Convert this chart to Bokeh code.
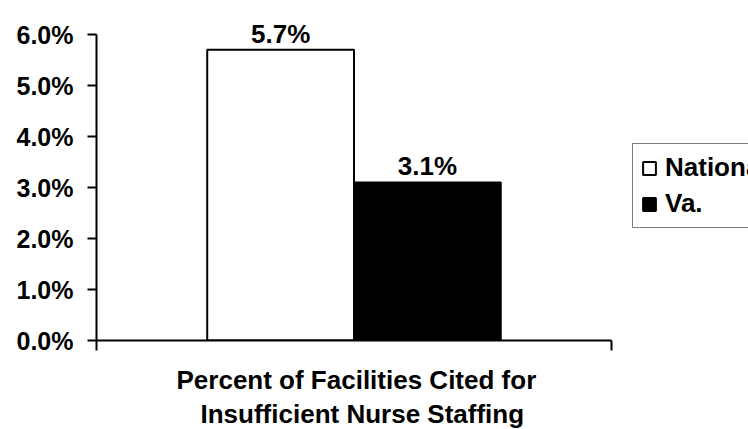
from bokeh.plotting import figure
from bokeh.models import (ColumnDataSource, Range1d, FixedTicker, PrintfTickFormatter,
                          Legend, LegendItem, LinearAxis, Title)
from bokeh.embed import file_html
from bokeh.resources import INLINE
from bokeh.core.properties import value

# Data: percent of facilities cited for insufficient nurse staffing
series = ["National", "Va."]
percents = [5.7, 3.1]
fills = ["white", "black"]
y_ticks = [0, 1, 2, 3, 4, 5, 6]
caption_lines = ["Percent of Facilities Cited for", "Insufficient Nurse Staffing"]

FONT = "Liberation Sans"

# bar geometry in the 0..1 horizontal range: one group, two adjacent bars
group_center = 0.5
bar_width = 0.285
n = len(series)
xs = [group_center + (i - (n - 1) / 2) * bar_width for i in range(n)]

source = ColumnDataSource(data=dict(
    x=xs,
    top=percents,
    fill=fills,
    name=series,
    label=[f"{v:.1f}%" for v in percents],
))

# The plotting frame reaches the top and right edges so that the value
# labels and the legend have room; the axes are bounded to the data area.
W, H = 748, 429
LEFT, BOTTOM = 96, 89
AXIS_PX = 515      # pixel length of the 0..1 category axis
UNIT_PX = 51       # pixels per percentage point
frame_w = W - LEFT
frame_h = H - BOTTOM

p = figure(width=W, height=H, output_backend="svg", toolbar_location=None,
           x_range=Range1d(0, frame_w / AXIS_PX),
           y_range=Range1d(0, frame_h / UNIT_PX),
           x_axis_type=None, y_axis_type=None,
           min_border_left=LEFT, min_border_right=0,
           min_border_top=0, min_border_bottom=BOTTOM)
p.outline_line_color = None
p.background_fill_color = "white"
p.border_fill_color = "white"
p.xgrid.visible = False
p.ygrid.visible = False

# y axis with percent labels
yaxis = LinearAxis(ticker=FixedTicker(ticks=y_ticks),
                   formatter=PrintfTickFormatter(format="%.1f%%"),
                   bounds=(y_ticks[0], y_ticks[-1]))
yaxis.axis_line_width = 2
yaxis.axis_line_color = "black"
yaxis.major_tick_line_width = 2
yaxis.major_tick_line_color = "black"
yaxis.major_tick_in = 0
yaxis.major_tick_out = 9
yaxis.minor_tick_line_color = None
yaxis.major_label_text_font = FONT
yaxis.major_label_text_font_style = "bold"
yaxis.major_label_text_font_size = "25px"
yaxis.major_label_text_color = "black"
yaxis.major_label_standoff = 14
p.add_layout(yaxis, "left")

# x axis: a baseline with ticks at both ends
xaxis = LinearAxis(ticker=FixedTicker(ticks=[0, 1]), bounds=(0, 1))
xaxis.axis_line_width = 2
xaxis.axis_line_color = "black"
xaxis.major_tick_line_width = 2
xaxis.major_tick_line_color = "black"
xaxis.major_tick_in = 0
xaxis.major_tick_out = 10
xaxis.minor_tick_line_color = None
xaxis.major_label_text_font_size = "0px"
xaxis.major_label_text_color = None
xaxis.major_label_standoff = 0
p.add_layout(xaxis, "below")

# two-line caption under the axis, centred under the bars
caption_offsets = [80, 104]
caption_standoffs = [24, -20]
for line, off, so in zip(caption_lines, caption_offsets, caption_standoffs):
    t = Title(text=line, align="left", offset=off, standoff=so,
              text_font=FONT, text_font_style="bold", text_font_size="26px",
              text_color="black", text_line_height=0.95)
    p.add_layout(t, "below")

bars = p.vbar(x="x", top="top", width=bar_width, bottom=0, source=source,
              fill_color="fill", line_color="black", line_width=2)

# value labels above each bar
p.text(x="x", y="top", text="label", source=source,
       text_font=value(FONT), text_font_style="bold", text_font_size="26px",
       text_align="center", text_baseline="alphabetic", y_offset=-16,
       text_color="black")

legend = Legend(items=[LegendItem(label=s, renderers=[bars], index=i)
                       for i, s in enumerate(series)],
                location=(536, 112))
legend.border_line_color = "black"
legend.border_line_width = 1.5
legend.background_fill_color = "white"
legend.padding = 8
legend.margin = 0
legend.spacing = 5
legend.glyph_width = 16
legend.glyph_height = 16
legend.label_standoff = 8
legend.label_text_font = FONT
legend.label_text_font_style = "bold"
legend.label_text_font_size = "26px"
legend.label_text_line_height = 1.0
legend.label_text_color = "black"
p.add_layout(legend, "center")

open("out.html", "w").write(file_html(p, INLINE))
